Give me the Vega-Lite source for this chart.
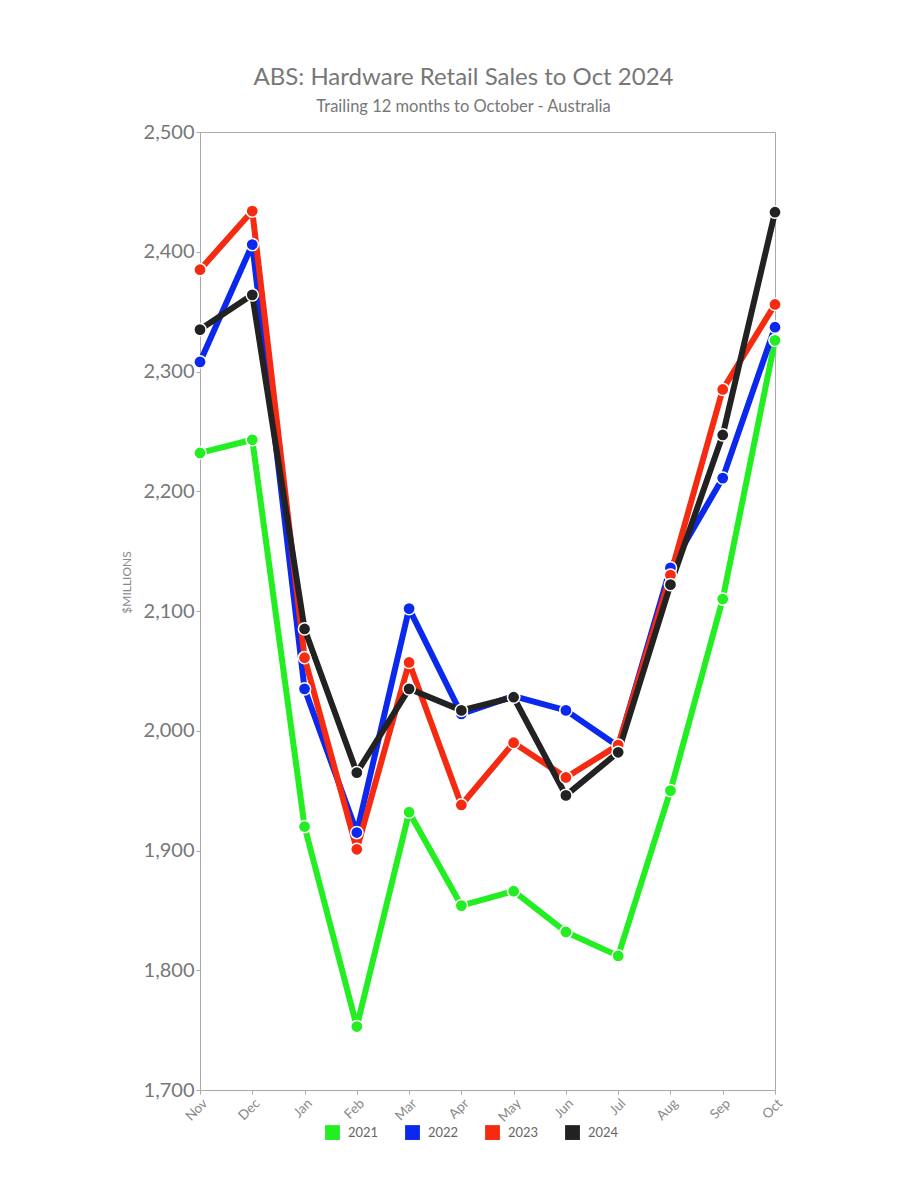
{
  "$schema": "https://vega.github.io/schema/vega-lite/v6.json",
  "autosize": {"type": "none"},
  "width": 575,
  "height": 958,
  "padding": {"left": 200, "top": 132, "right": 125, "bottom": 110},
  "background": "white",
  "config": {
    "font": "Lato",
    "view": {"stroke": "#aaaaaa", "strokeWidth": 1}
  },
  "title": {
    "text": "ABS: Hardware Retail Sales to Oct 2024",
    "subtitle": "Trailing 12 months to October - Australia",
    "fontSize": 24,
    "fontWeight": "normal",
    "color": "#777777",
    "subtitleFontSize": 16.5,
    "subtitleColor": "#777777",
    "subtitlePadding": 9,
    "anchor": "middle",
    "dx": -24,
    "offset": 7
  },
  "data": {
    "values": [
      {"month": "Nov", "year": "2021", "value": 2232},
      {"month": "Dec", "year": "2021", "value": 2243},
      {"month": "Jan", "year": "2021", "value": 1920},
      {"month": "Feb", "year": "2021", "value": 1753},
      {"month": "Mar", "year": "2021", "value": 1932},
      {"month": "Apr", "year": "2021", "value": 1854},
      {"month": "May", "year": "2021", "value": 1866},
      {"month": "Jun", "year": "2021", "value": 1832},
      {"month": "Jul", "year": "2021", "value": 1812},
      {"month": "Aug", "year": "2021", "value": 1950},
      {"month": "Sep", "year": "2021", "value": 2110},
      {"month": "Oct", "year": "2021", "value": 2326},
      {"month": "Nov", "year": "2022", "value": 2308},
      {"month": "Dec", "year": "2022", "value": 2406},
      {"month": "Jan", "year": "2022", "value": 2035},
      {"month": "Feb", "year": "2022", "value": 1915},
      {"month": "Mar", "year": "2022", "value": 2102},
      {"month": "Apr", "year": "2022", "value": 2014},
      {"month": "May", "year": "2022", "value": 2029},
      {"month": "Jun", "year": "2022", "value": 2017},
      {"month": "Jul", "year": "2022", "value": 1987},
      {"month": "Aug", "year": "2022", "value": 2136},
      {"month": "Sep", "year": "2022", "value": 2211},
      {"month": "Oct", "year": "2022", "value": 2337},
      {"month": "Nov", "year": "2023", "value": 2385},
      {"month": "Dec", "year": "2023", "value": 2434},
      {"month": "Jan", "year": "2023", "value": 2061},
      {"month": "Feb", "year": "2023", "value": 1901},
      {"month": "Mar", "year": "2023", "value": 2057},
      {"month": "Apr", "year": "2023", "value": 1938},
      {"month": "May", "year": "2023", "value": 1990},
      {"month": "Jun", "year": "2023", "value": 1961},
      {"month": "Jul", "year": "2023", "value": 1988},
      {"month": "Aug", "year": "2023", "value": 2130},
      {"month": "Sep", "year": "2023", "value": 2285},
      {"month": "Oct", "year": "2023", "value": 2356},
      {"month": "Nov", "year": "2024", "value": 2335},
      {"month": "Dec", "year": "2024", "value": 2364},
      {"month": "Jan", "year": "2024", "value": 2085},
      {"month": "Feb", "year": "2024", "value": 1965},
      {"month": "Mar", "year": "2024", "value": 2035},
      {"month": "Apr", "year": "2024", "value": 2017},
      {"month": "May", "year": "2024", "value": 2028},
      {"month": "Jun", "year": "2024", "value": 1946},
      {"month": "Jul", "year": "2024", "value": 1982},
      {"month": "Aug", "year": "2024", "value": 2122},
      {"month": "Sep", "year": "2024", "value": 2247},
      {"month": "Oct", "year": "2024", "value": 2433}
    ]
  },
  "encoding": {
    "x": {
      "field": "month",
      "type": "ordinal",
      "sort": ["Nov", "Dec", "Jan", "Feb", "Mar", "Apr", "May", "Jun", "Jul", "Aug", "Sep", "Oct"],
      "scale": {"type": "point", "padding": 0},
      "axis": {
        "title": null,
        "labelAngle": -45,
        "labelFontSize": 13.5,
        "labelColor": "#888888",
        "domainColor": "#aaaaaa",
        "tickColor": "#aaaaaa",
        "tickSize": 4,
        "labelPadding": 2,
        "grid": false
      }
    },
    "y": {
      "field": "value",
      "type": "quantitative",
      "scale": {"domain": [1700, 2500], "nice": false, "zero": false},
      "axis": {
        "title": "$MILLIONS",
        "titleFontSize": 12,
        "titleFontWeight": "normal",
        "titleColor": "#888888",
        "titlePadding": 10,
        "titleY": 450,
        "values": [1700, 1800, 1900, 2000, 2100, 2200, 2300, 2400, 2500],
        "format": ",d",
        "labelFontSize": 20,
        "labelColor": "#777777",
        "labelPadding": 2,
        "domainColor": "#aaaaaa",
        "tickColor": "#aaaaaa",
        "tickSize": 4,
        "grid": false
      }
    },
    "color": {
      "field": "year",
      "type": "nominal",
      "scale": {"domain": ["2021", "2022", "2023", "2024"], "range": ["#22ee22", "#0a28ee", "#f52a10", "#222222"]},
      "legend": {
        "title": null,
        "orient": "none",
        "legendX": 125,
        "legendY": 993,
        "direction": "horizontal",
        "symbolType": "square",
        "symbolSize": 220,
        "symbolStrokeWidth": 0,
        "labelFontSize": 13,
        "labelColor": "#666666",
        "columnPadding": 26,
        "labelOffset": 8
      }
    }
  },
  "layer": [
    {"mark": {"type": "line", "strokeWidth": 6, "strokeJoin": "round"}},
    {"mark": {"type": "point", "filled": true, "opacity": 1, "size": 150, "stroke": "white", "strokeWidth": 1.5}}
  ]
}
